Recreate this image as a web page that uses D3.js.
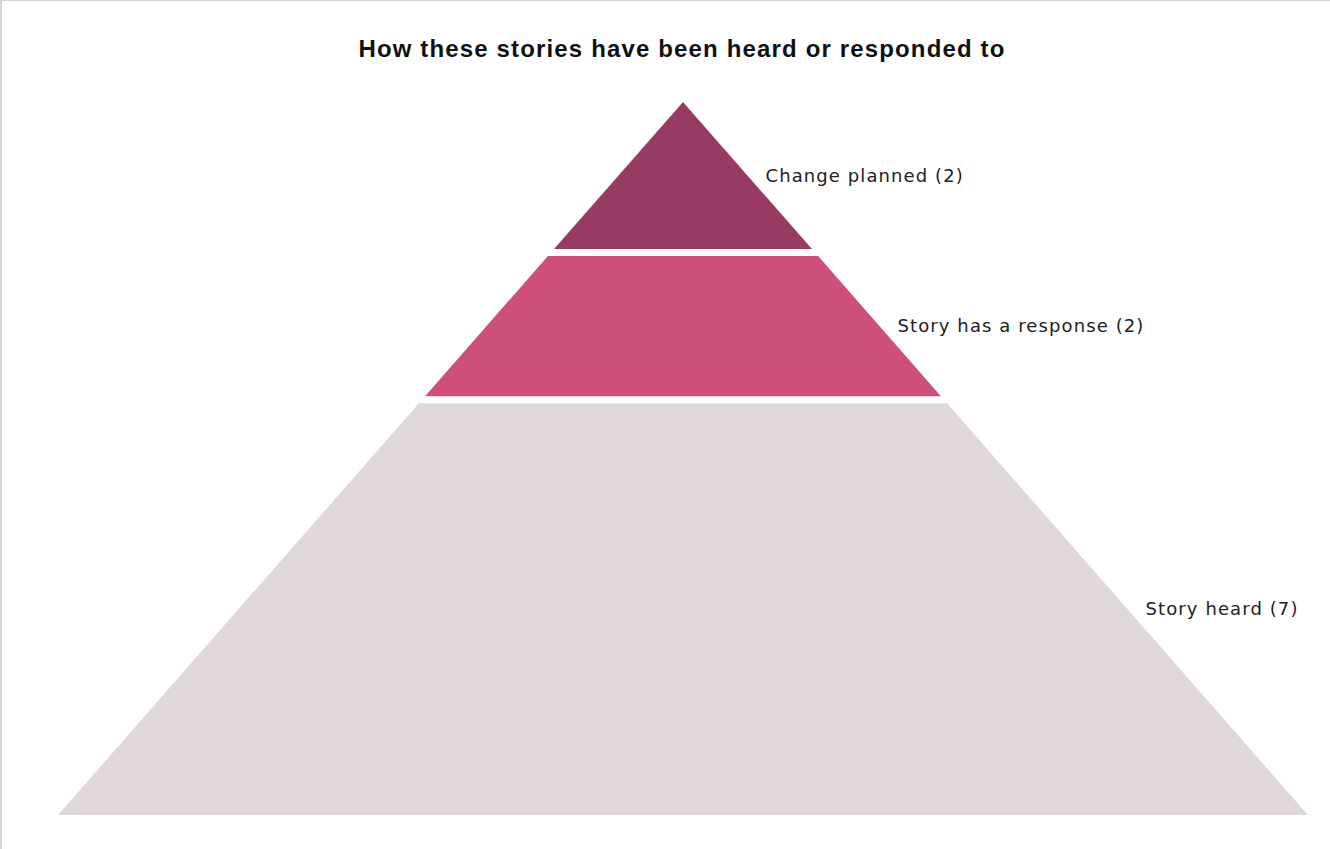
<!DOCTYPE html>
<html>
<head>
<meta charset="utf-8">
<script src="https://cdn.jsdelivr.net/npm/d3@7"></script>
<style>
  html, body { margin: 0; padding: 0; background: #fff; }
  svg { display: block; }
</style>
</head>
<body>
<script>
// ---- data ----
const title = "How these stories have been heard or responded to";
const categories = ["Change planned", "Story has a response", "Story heard"];
const values = [2, 2, 7];
const colors = ["#983B62", "#CF4F7B", "#E0D7DD"];

// ---- layout ----
const W = 1330, H = 849;
const apexX = 683, apexY = 102, baseY = 815, baseHalf = 625;
const gap = 7;

const svg = d3.select("body").append("svg").attr("width", W).attr("height", H);

// frame lines (top & left)
svg.append("rect").attr("x", 0).attr("y", 0).attr("width", W).attr("height", 1).attr("fill", "#D4D4D4");
svg.append("rect").attr("x", 0).attr("y", 0).attr("width", 2).attr("height", H).attr("fill", "#D4D4D4");

svg.append("text")
  .attr("x", 682).attr("y", 57)
  .attr("text-anchor", "middle")
  .attr("font-family", "Liberation Sans, Arial, sans-serif")
  .attr("font-weight", "bold")
  .attr("font-size", 24)
  .attr("letter-spacing", "1.15px")
  .attr("fill", "#111")
  .text(title);

// segment weights through a power scale
const weight = d3.scalePow().exponent(0.835).domain([0, 1]).range([0, 1]);
const w = values.map(v => weight(v));
const cum = d3.cumsum(w);
const total = cum[cum.length - 1];
const y = d3.scaleLinear().domain([0, total]).range([apexY, baseY]);
const halfW = d3.scaleLinear().domain([apexY, baseY]).range([0, baseHalf]);

const segs = values.map((v, i) => {
  const start = i === 0 ? 0 : cum[i - 1];
  const y0 = y(start) + (i === 0 ? 0 : gap);
  const y1 = y(cum[i]);
  return { i, v, y0, y1, cat: categories[i] };
});

svg.selectAll("path.seg").data(segs).join("path")
  .attr("class", "seg")
  .attr("fill", d => colors[d.i])
  .attr("d", d => {
    const h0 = halfW(d.y0), h1 = halfW(d.y1);
    return `M${apexX - h0},${d.y0}L${apexX + h0},${d.y0}L${apexX + h1},${d.y1}L${apexX - h1},${d.y1}Z`;
  });

svg.selectAll("text.lbl").data(segs).join("text")
  .attr("class", "lbl")
  .attr("x", d => apexX + halfW((d.y0 + d.y1) / 2) + 18)
  .attr("y", d => (d.y0 + d.y1) / 2)
  .attr("dy", "0.35em")
  .attr("font-family", "DejaVu Sans, Verdana, sans-serif")
  .attr("font-size", 18)
  .attr("letter-spacing", "1.1px")
  .attr("fill", "#222")
  .text(d => `${d.cat} (${d.v})`);
</script>
</body>
</html>
